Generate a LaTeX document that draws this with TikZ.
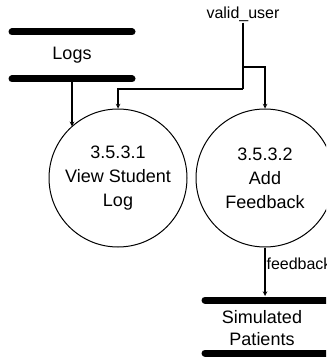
\documentclass[tikz,border=0pt]{standalone}
\usepackage{fontspec}
\setmainfont{Liberation Sans}
\usetikzlibrary{calc}

\tikzset{
  proc/.style={draw,circle,line width=1pt,minimum size=138pt,inner sep=0pt,align=center,font=\fontsize{18}{24}\selectfont},
  store/.style={line width=7pt,line cap=round},
  storetext/.style={align=center,inner sep=0pt,font=\fontsize{18}{22}\selectfont},
  flow/.style={->,line width=1.1pt,-stealth},
  flowlabel/.style={inner sep=1pt,font=\fontsize{16}{18}\selectfont}
}

\begin{document}
\begin{tikzpicture}[x=1pt,y=-1pt]
        \useasboundingbox (0,0) rectangle (326,358);
        \clip (0,0) rectangle (326,358);

        % data stores
        \draw[store] (12,32) coordinate (logsa) -- (132,32) coordinate (logsb);
        \draw[store] (12,79) coordinate (logsc) -- (132,79) coordinate (logsd);
        \node[storetext] (logs) at (72,55) {Logs};
        \draw[store] (205,300) coordinate (sima) -- (340,300) coordinate (simb);
        \draw[store] (205,353) coordinate (simc) -- (340,353) coordinate (simd);
        \node[storetext] (sim) at (262,328) {Simulated\\Patients};

        % processes
        \node[proc] (view) at (118,178) {3.5.3.1\\View Student\\Log};
        \node[proc] (add) at (265,178) {3.5.3.2\\Add\\Feedback};

        % flows
        \node[flowlabel] (valid) at (243,14) {valid\_user};
        \draw (243,67) coordinate (ja) node[above]{};
        \draw (243,89) coordinate (jb) node[above]{};
        \draw (72,82.5) coordinate (lo) node[above]{};
        \draw (265,296) coordinate (si) node[above]{};

        \draw[line width=1.1pt] (valid.south)--(jb);
        \draw[flow] (ja)-|(add.north);
        \draw[flow] (jb)-|(view.north);
        \draw[flow] (lo)--(lo |- view.132);
        \draw[flow] (add.south)--node[flowlabel,right,pos=0.33]{feedback}(si);
    \end{tikzpicture}
\end{document}
